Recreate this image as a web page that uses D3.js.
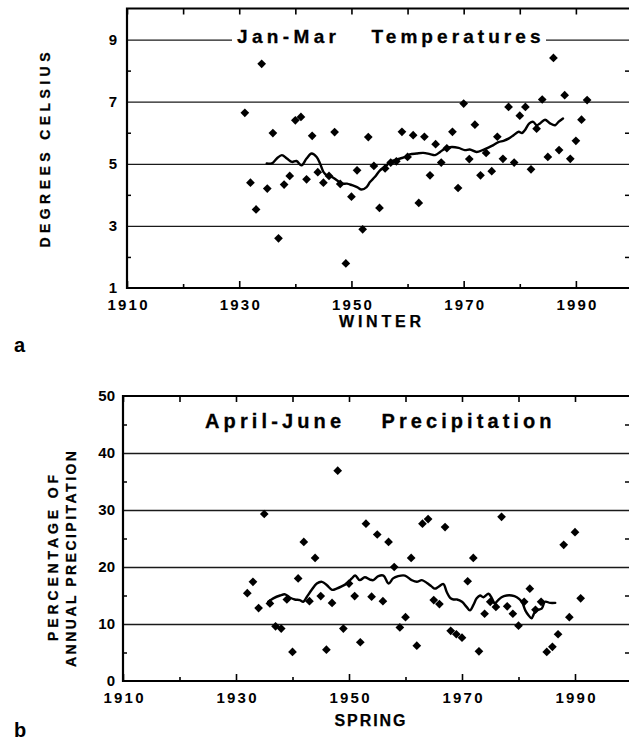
<!DOCTYPE html>
<html><head><meta charset="utf-8">
<script src="https://cdn.jsdelivr.net/npm/d3@7"></script>
<style>
html,body{margin:0;padding:0;background:#fff;}
svg{display:block;font-family:"Liberation Sans",Arial,Helvetica,sans-serif;}
</style></head><body>
<svg id="chart" width="629" height="742"></svg>
<script>
// ---------- DATA ----------
const winterYears = [1931,1932,1933,1934,1935,1936,1937,1938,1939,1940,1941,1942,1943,1944,1945,1946,1947,1948,1949,1950,
  1951,1952,1953,1954,1955,1956,1957,1958,1959,1960,1961,1962,1963,1964,1965,1966,1967,1968,1969,1970,
  1971,1972,1973,1974,1975,1976,1977,1978,1979,1980,1981,1982,1983,1984,1985,1986,1987,1988,1989,1990,1991,1992];
const winterTemp = [6.64,4.39,3.53,8.22,4.20,5.99,2.60,4.33,4.61,6.40,6.51,4.50,5.90,4.73,4.39,4.61,6.02,4.35,1.79,3.94,
  4.79,2.89,5.86,4.93,3.58,4.85,5.04,5.08,6.03,5.22,5.92,3.74,5.87,4.63,5.63,5.04,5.50,6.03,4.22,6.94,
  5.15,6.26,4.63,5.35,4.76,5.87,5.16,6.83,5.04,6.55,6.83,4.82,6.13,7.07,5.22,8.41,5.44,7.21,5.16,5.74,6.42,7.05];
const winterSmoothYears = [1934.9,1935.8,1936.7,1937.6,1938.5,1939.4,1940.2,1941.1,1942.0,1942.9,1943.8,1944.4,1945.0,1945.6,
  1946.5,1947.4,1948.3,1949.2,1950.1,1951.0,1951.8,1952.7,1953.3,1954.2,1955.1,1956.0,1956.9,1957.8,1958.7,1959.6,1960.4,
  1961.6,1962.8,1964.0,1964.9,1965.8,1966.7,1967.9,1969.1,1970.2,1971.1,1972.3,1973.5,1974.4,1975.3,1976.2,1977.1,1978.0,
  1978.9,1979.8,1980.4,1980.9,1981.7,1982.4,1983.0,1983.6,1984.5,1985.4,1986.3,1986.9,1987.7];
const winterSmooth = [5.01,5.01,5.17,5.28,5.17,5.06,5.09,4.95,5.17,5.33,5.22,5.01,4.74,4.63,
  4.58,4.47,4.36,4.36,4.31,4.25,4.17,4.25,4.41,4.58,4.79,4.90,5.06,5.12,5.17,5.22,5.30,
  5.33,5.35,5.31,5.28,5.38,5.49,5.54,5.51,5.44,5.46,5.38,5.45,5.52,5.60,5.70,5.74,5.81,
  5.92,6.03,5.99,6.08,6.30,6.35,6.24,6.30,6.42,6.30,6.24,6.35,6.46];

const springYears = [1932,1933,1934,1935,1936,1937,1938,1939,1940,1941,1942,1943,1944,1945,1946,1947,1948,1949,1950,
  1951,1952,1953,1954,1955,1956,1957,1958,1959,1960,1961,1962,1963,1964,1965,1966,1967,1968,1969,1970,
  1971,1972,1973,1974,1975,1976,1977,1978,1979,1980,1981,1982,1983,1984,1985,1986,1987,1988,1989,1990,1991];
const springPct = [15.4,17.4,12.8,29.3,13.6,9.6,9.2,14.3,5.1,18.0,24.4,14.0,21.6,14.9,5.5,13.7,36.9,9.2,17.1,
  14.9,6.8,27.6,14.8,25.7,14.0,24.4,20.0,9.4,11.2,21.6,6.2,27.6,28.4,14.2,13.5,27.0,8.8,8.2,7.6,
  17.5,21.6,5.2,11.8,13.9,13.0,28.8,13.1,11.8,9.7,13.9,16.2,12.5,13.9,5.1,6.0,8.2,23.9,11.2,26.1,14.5];
const springSmoothYears = [1935.7,1936.6,1937.8,1938.7,1939.6,1940.4,1941.3,1941.9,1942.5,1943.4,1944.3,1945.2,1946.1,
  1947.0,1947.8,1948.7,1949.6,1950.5,1951.1,1951.9,1952.8,1953.7,1954.3,1955.2,1956.1,1957.0,1957.8,1958.7,1959.9,
  1961.1,1962.0,1962.9,1963.8,1964.6,1965.2,1965.8,1966.7,1967.3,1967.9,1968.5,1969.1,1970.0,1970.8,1971.4,1972.0,
  1972.6,1973.2,1973.8,1974.7,1975.3,1975.8,1976.4,1977.0,1977.9,1978.8,1979.7,1980.6,1981.2,1981.8,1982.3,1982.9,
  1983.5,1984.1,1984.7,1985.6,1986.5];
const springSmooth = [13.9,14.5,15.0,15.2,14.6,14.3,14.2,13.9,14.7,16.0,17.1,17.4,16.8,
  16.0,16.2,16.6,17.1,18.0,18.5,17.7,18.2,17.8,17.7,18.4,18.5,17.1,18.0,18.4,18.5,
  17.7,17.4,17.7,17.2,16.6,16.2,16.5,17.0,15.6,14.6,14.3,14.3,13.9,13.0,12.4,13.3,
  14.5,15.0,14.7,15.3,14.5,13.6,14.2,14.7,15.0,15.0,14.7,13.9,12.4,11.5,11.0,12.1,
  12.5,12.7,13.9,13.7,13.7];

const xTickYears = [1910,1920,1930,1940,1950,1960,1970,1980,1990];
const xLabelYears = [1910,1930,1950,1970,1990];
const winterLabels = [1,3,5,7,9];
const winterGrid = [3,5,7,9];
const winterMinor = [2,4,6,8];
const springLabels = [0,10,20,30,40,50];
const springGrid = [10,20,30,40];
const springMinor = [5,15,25,35,45];

// ---------- DRAW ----------
const svg = d3.select("#chart");
svg.append("rect").attr("width",629).attr("height",742).attr("fill","#fff");
const FONT = '"Liberation Sans",Arial,Helvetica,sans-serif';

function panel(o){
  const g = svg.append("g");
  const x = d3.scaleLinear().domain([1910,2000]).range([o.left,o.right]);
  const y = d3.scaleLinear().domain(o.yDomain).range([o.bottom,o.top]);
  const w = o.right - o.left;
  const clean = s => s.select(".domain").remove();

  // gridlines
  g.append("g").attr("transform",`translate(${o.left},0)`)
    .call(d3.axisLeft(y).tickValues(o.grid).tickSize(-w).tickFormat(""))
    .call(clean)
    .selectAll("line").attr("stroke","#1a1a1a").attr("stroke-width",1.3);

  // title (with white background)
  o.titles.forEach(t=>{
    if(t.bg){
      g.append("rect").attr("x",t.bg[0]).attr("y",t.bg[1]).attr("width",t.bg[2]).attr("height",t.bg[3]).attr("fill","#fff");
    }
  });
  o.titles.forEach(t=>{
    g.append("text").attr("x",t.x).attr("y",t.y).attr("font-size",t.size).attr("font-weight","bold")
      .attr("textLength",t.len).attr("lengthAdjust","spacing").attr("fill","#000")
      .attr("stroke","#000").attr("stroke-width",0.3).text(t.text);
  });

  // left minor ticks
  g.append("g").attr("transform",`translate(${o.left},0)`)
    .call(d3.axisLeft(y).tickValues(o.minor).tickSize(-4).tickFormat("")).call(clean)
    .selectAll("line").attr("stroke","#000").attr("stroke-width",1.5);
  // right minor ticks
  g.append("g").attr("transform",`translate(629,0)`)
    .call(d3.axisRight(y).tickValues(o.minor).tickSize(-4).tickFormat("")).call(clean)
    .selectAll("line").attr("stroke","#000").attr("stroke-width",1.5);

  // y labels
  const yl = g.append("g").attr("transform",`translate(${o.left},0)`)
    .call(d3.axisLeft(y).tickValues(o.labels).tickSize(0).tickPadding(o.labelPad).tickFormat(d3.format("d"))).call(clean);
  yl.selectAll("text").attr("font-size",15).attr("font-weight","bold").attr("fill","#000")
    .attr("font-family",FONT);

  // bottom ticks (inside)
  g.append("g").attr("transform",`translate(0,${o.bottom})`)
    .call(d3.axisBottom(x).tickValues(xTickYears).tickSize(0).tickFormat("")).call(clean)
    .selectAll("line").attr("y2",d=>xLabelYears.includes(d)? -7 : -4).attr("stroke","#000").attr("stroke-width",1.6);
  // top ticks (inside)
  g.append("g").attr("transform",`translate(0,${o.top})`)
    .call(d3.axisTop(x).tickValues(xTickYears).tickSize(-6).tickFormat("")).call(clean)
    .selectAll("line").attr("stroke","#000").attr("stroke-width",1.6);

  // x labels
  const xl = g.append("g").attr("transform",`translate(0,${o.bottom})`)
    .call(d3.axisBottom(x).tickValues(xLabelYears).tickSize(0).tickPadding(11).tickFormat(d3.format("d"))).call(clean);
  xl.selectAll("text").attr("font-size",15).attr("font-weight","bold").attr("fill","#000")
    .attr("textLength",40).attr("lengthAdjust","spacing").attr("font-family",FONT);

  // frame
  g.append("path")
    .attr("d",`M${o.right+2},${o.top}H${o.left}V${o.bottom}H${o.right+2}`)
    .attr("fill","none").attr("stroke","#000").attr("stroke-width",2.2);

  // points
  const sym = d3.symbol().type(d3.symbolSquare).size(38);
  g.append("g").selectAll("path").data(o.years.map((yr,i)=>[yr,o.vals[i]])).join("path")
    .attr("d",sym)
    .attr("transform",d=>`translate(${x(d[0])},${y(d[1])}) rotate(45)`)
    .attr("fill","#000");

  // smoothed line
  const line = d3.line().x(d=>x(d[0])).y(d=>y(d[1])).curve(d3.curveCatmullRom);
  g.append("path").datum(o.sYears.map((yr,i)=>[yr,o.sVals[i]]))
    .attr("d",line).attr("fill","none").attr("stroke","#000").attr("stroke-width",2.4)
    .attr("stroke-linejoin","round").attr("stroke-linecap","round");

  // axis titles
  o.axisTitles.forEach(t=>{
    const tx = g.append("text").attr("font-size",t.size).attr("font-weight","bold").attr("fill","#000")
      .attr("text-anchor","middle").attr("textLength",t.len).attr("lengthAdjust","spacing")
      .attr("stroke","#000").attr("stroke-width",0.25).text(t.text);
    if(t.rot){
      tx.attr("transform",`translate(${t.x},${t.y}) rotate(-90)`).attr("dy","0.36em");
    } else {
      tx.attr("x",t.x).attr("y",t.y).attr("dy","0.36em");
    }
  });
  // panel letter
  g.append("text").attr("x",o.letter[0]).attr("y",o.letter[1]).attr("font-size",20).attr("font-weight","bold")
    .attr("fill","#000").text(o.letter[2]);
}

panel({
  left:127, right:632, top:8.5, bottom:288, yDomain:[1,10],
  grid:winterGrid, minor:winterMinor, labels:winterLabels, labelPad:10,
  years:winterYears, vals:winterTemp, sYears:winterSmoothYears, sVals:winterSmooth,
  titles:[
    {text:"Jan-Mar", x:237, y:43, size:19, len:99, bg:[232,26,314,21]},
    {text:"Temperatures", x:371.5, y:43, size:19, len:169}
  ],
  axisTitles:[
    {text:"WINTER", x:380, y:321, size:16, len:82},
    {text:"DEGREES CELSIUS", x:45, y:150, size:14, len:195, rot:true}
  ],
  letter:[14,352,"a"]
});

panel({
  left:123, right:631.5, top:396, bottom:681, yDomain:[0,50],
  grid:springGrid, minor:springMinor, labels:springLabels, labelPad:8,
  years:springYears, vals:springPct, sYears:springSmoothYears, sVals:springSmooth,
  titles:[
    {text:"April-June", x:205, y:428, size:20, len:136},
    {text:"Precipitation", x:381.5, y:428, size:20, len:170}
  ],
  axisTitles:[
    {text:"SPRING", x:370, y:720, size:16, len:71},
    {text:"PERCENTAGE OF", x:53, y:558, size:14, len:166, rot:true},
    {text:"ANNUAL PRECIPITATION", x:71, y:559, size:14, len:216, rot:true}
  ],
  letter:[14,737,"b"]
});
</script></body></html>
